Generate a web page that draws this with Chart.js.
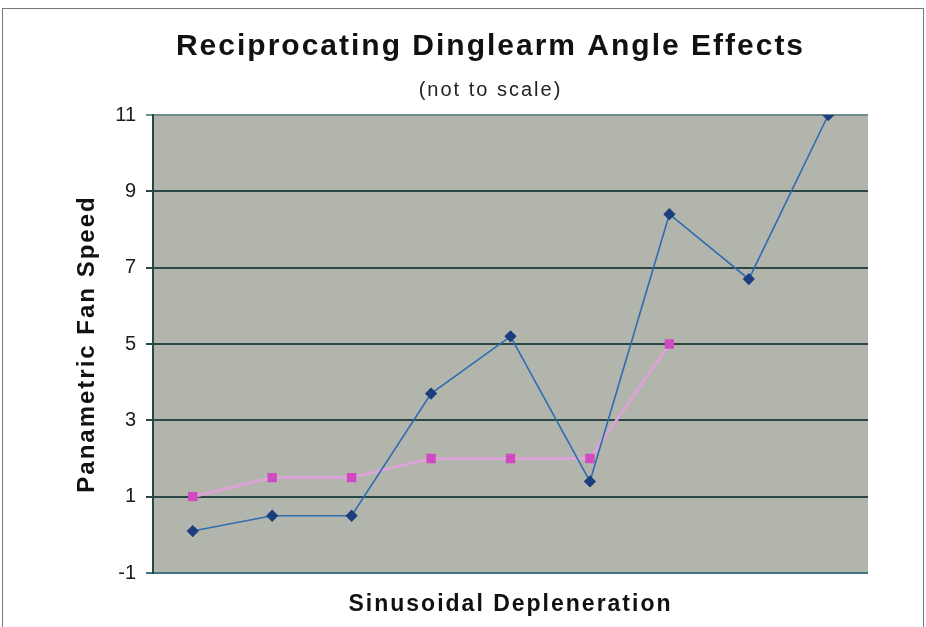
<!DOCTYPE html>
<html>
<head>
<meta charset="utf-8">
<script src="https://cdn.jsdelivr.net/npm/chart.js@4"></script>
<style>
	body { margin: 0; background: #fff; }
	#frame { position: absolute; left: 2px; top: 8px; width: 920px; height: 640px; border: 1px solid #777; }
	#wrap { position: absolute; left: 0; top: 0; width: 926px; height: 627px; }
</style>
</head>
<body>
<div id="frame"></div>
<div id="wrap"><canvas id="dinglearm_chart"></canvas></div>
<script>
var categories = ['1', '2', '3', '4', '5', '6', '7', '8', '9'];
var blueValues = [0.1, 0.5, 0.5, 3.7, 5.2, 1.4, 8.4, 6.7, 11];
var pinkValues = [1.0, 1.5, 1.5, 2.0, 2.0, 2.0, 5.0];
var yTicks = [-1, 1, 3, 5, 7, 9, 11];

var FONT = "'Liberation Sans', Arial, Helvetica, sans-serif";

/* gray plot background */
var plotBackground = {
	id: 'plotBackground',
	beforeDraw: function (chart) {
		var a = chart.chartArea;
		var ctx = chart.ctx;
		ctx.save();
		ctx.fillStyle = '#b2b5ac';
		ctx.fillRect(a.left, a.top, a.right - a.left, a.bottom - a.top);
		ctx.restore();
	}
};

/* the original lettering is spaced wider than Arial (titles only, not tick numbers) */
var wideText = {
	id: 'wideText',
	beforeUpdate: function (chart) { chart.ctx.letterSpacing = '2px'; },
	beforeLayout: function (chart) { chart.ctx.letterSpacing = '2px'; },
	beforeDraw: function (chart) { chart.ctx.letterSpacing = '2px'; },
	afterUpdate: function (chart) {
		var s = chart.scales.y;
		if (s && !s._tightLabels) {
			var orig = s.drawLabels;
			s.drawLabels = function (area) {
				var c = this.ctx;
				var prev = c.letterSpacing;
				c.letterSpacing = '0px';
				orig.call(this, area);
				c.letterSpacing = prev;
			};
			s._tightLabels = true;
		}
	}
};

const dinglearm_chart = document.getElementById('dinglearm_chart');
var DinglearmChart = new Chart(dinglearm_chart, {
	type: 'line',
	data: {
		labels: categories,
		datasets: [{
			data: blueValues,
			borderColor: '#2f6cb2',
			borderWidth: 1.6,
			pointBackgroundColor: '#1b3e7e',
			pointBorderColor: '#1b3e7e',
			pointStyle: 'rectRot',
			pointRadius: 5,
			tension: 0
		}, {
			data: pinkValues,
			borderColor: '#dba3d6',
			borderWidth: 3,
			pointBackgroundColor: '#d04ac2',
			pointBorderColor: '#d04ac2',
			pointStyle: 'rect',
			pointRadius: 4.5,
			tension: 0
		}]
	},
	options: {
		responsive: true,
		maintainAspectRatio: false,
		animation: false,
		layout: {
			padding: { left: 55, right: 0, top: 0, bottom: 0 }
		},
		scales: {
			x: {
				offset: true,
				grid: { display: false },
				border: { display: false },
				ticks: { display: false },
				title: {
					display: true,
					text: 'Sinusoidal Depleneration',
					color: '#111',
					font: { family: FONT, size: 23, weight: 'bold', lineHeight: 1.2 },
					padding: { top: 0, bottom: 9 }
				},
				afterFit: function (scale) { scale.height = 54; }
			},
			y: {
				min: -1,
				max: 11,
				afterBuildTicks: function (scale) {
					scale.ticks = yTicks.map(function (v) { return { value: v }; });
				},
				ticks: {
					color: '#1a1a1a',
					padding: 10,
					font: { family: FONT, size: 20 }
				},
				grid: {
					color: function (c) {
						if (c.tick && c.tick.value === 11) return '#6f8d8c';
						if (c.tick && c.tick.value === -1) return '#3f7488';
						return '#2b4745';
					},
					lineWidth: 2,
					tickLength: 7
				},
				border: { color: '#2b4745', width: 2 },
				title: {
					display: true,
					text: 'Panametric Fan Speed',
					color: '#111',
					font: { family: FONT, size: 24, weight: 'bold', lineHeight: 1.2 },
					padding: { top: 18, bottom: 0 }
				},
				afterFit: function (scale) { scale.width = 98; }
			},
			yRight: {
				position: 'right',
				display: true,
				grid: { display: false },
				border: { display: false },
				ticks: { display: false },
				afterFit: function (scale) { scale.width = 58; }
			}
		},
		plugins: {
			legend: { display: false },
			tooltip: { enabled: false },
			title: {
				display: true,
				text: 'Reciprocating Dinglearm Angle Effects',
				color: '#111',
				font: { family: FONT, size: 30, weight: 'bold', lineHeight: 1.2 },
				padding: { top: 29, bottom: 13 }
			},
			subtitle: {
				display: true,
				text: '(not to scale)',
				color: '#222',
				font: { family: FONT, size: 20, lineHeight: 1.2 },
				padding: { top: 0, bottom: 13 }
			}
		}
	},
	plugins: [wideText, plotBackground]
});
</script>
</body>
</html>
